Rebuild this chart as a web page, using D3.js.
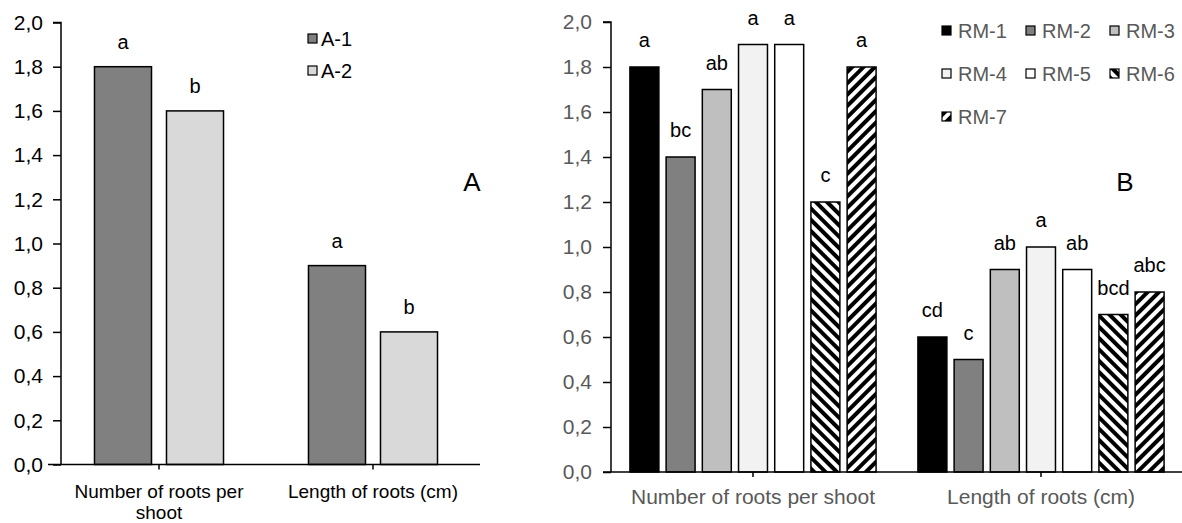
<!DOCTYPE html>
<html>
<head>
<meta charset="utf-8">
<script src="https://cdn.jsdelivr.net/npm/d3@7"></script>
<style>
    body { margin: 0; background: #fff; }
    svg { display: block; font-family: 'Liberation Sans', Arial, sans-serif; }
</style>
</head>
<body>
<div id="chart"></div>
<script>
// DATA

const left_categories = ['Number of roots per shoot', 'Length of roots (cm)'];
const left_series = ['A-1', 'A-2'];
const a1_values = [1.8, 0.9];
const a2_values = [1.6, 0.6];
const a1_letters = ['a', 'a'];
const a2_letters = ['b', 'b'];

const right_categories = ['Number of roots per shoot', 'Length of roots (cm)'];
const rm_series = ['RM-1', 'RM-2', 'RM-3', 'RM-4', 'RM-5', 'RM-6', 'RM-7'];
const rm_roots_number = [1.8, 1.4, 1.7, 1.9, 1.9, 1.2, 1.8];
const rm_roots_length = [0.6, 0.5, 0.9, 1.0, 0.9, 0.7, 0.8];
const rm_letters_number = ['a', 'bc', 'ab', 'a', 'a', 'c', 'a'];
const rm_letters_length = ['cd', 'c', 'ab', 'a', 'ab', 'bcd', 'abc'];

const y_ticks = [0, 0.2, 0.4, 0.6, 0.8, 1.0, 1.2, 1.4, 1.6, 1.8, 2.0];

//////////////////////////////////////////////

const width = 1182,
    height = 523;

const grey_text = '#595959';
const font = 'Liberation Sans, Arial, sans-serif';
const fmt = (d) => d.toFixed(1).replace('.', ',');

const svg = d3.select('#chart')
    .append('svg')
    .attr('width', width)
    .attr('height', height);

const defs = svg.append('defs');

const add_stripes = (id, angle) => {
    const p = defs.append('pattern')
        .attr('id', id)
        .attr('patternUnits', 'userSpaceOnUse')
        .attr('width', 8)
        .attr('height', 8)
        .attr('patternTransform', `rotate(${angle})`);
    p.append('rect').attr('width', 8).attr('height', 8).attr('fill', '#fff');
    p.append('rect').attr('width', 4).attr('height', 8).attr('fill', '#000');
}
add_stripes('down_diag', -45);
add_stripes('up_diag', 45);

const wrap = (text, max_width, line_height) => {
    text.each(function () {
        const t = d3.select(this);
        const words = t.text().split(' ');
        const x = t.attr('x');
        const y = t.attr('y');
        t.text(null);
        let line = [];
        let tspan = t.append('tspan').attr('x', x).attr('y', y);
        let n = 0;
        words.forEach((w) => {
            line.push(w);
            tspan.text(line.join(' '));
            if (tspan.node().getComputedTextLength() > max_width && line.length > 1) {
                line.pop();
                tspan.text(line.join(' '));
                line = [w];
                n++;
                tspan = t.append('tspan').attr('x', x).attr('y', +y + n * line_height).text(w);
            }
        });
    });
}

// LEFT PANEL (A)

const left_y = d3.scaleLinear().domain([0, 2]).range([464.5, 22.5]);
const left_x0 = d3.scaleBand().domain(left_categories).range([52, 480]);
const left_x1 = d3.scaleBand().domain(left_series)
    .range([0, left_x0.bandwidth()])
    .paddingInner(0.208)
    .paddingOuter(0.59);

const left_fill = d3.scaleOrdinal().domain(left_series).range(['#808080', '#d9d9d9']);

const left_rows = [];
left_categories.forEach((c, i) => {
    left_rows.push({ cat: c, s: 'A-1', v: a1_values[i], l: a1_letters[i] });
    left_rows.push({ cat: c, s: 'A-2', v: a2_values[i], l: a2_letters[i] });
});

const left = svg.append('g').attr('id', 'left');

left.selectAll('rect.bar')
    .data(left_rows)
    .enter()
    .append('rect')
    .attr('class', 'bar')
    .attr('x', (d) => left_x0(d.cat) + left_x1(d.s))
    .attr('y', (d) => left_y(d.v))
    .attr('width', left_x1.bandwidth())
    .attr('height', (d) => left_y(0) - left_y(d.v))
    .attr('fill', (d) => left_fill(d.s))
    .attr('stroke', '#000')
    .attr('stroke-width', 1.5);

left.selectAll('text.letter')
    .data(left_rows)
    .enter()
    .append('text')
    .attr('class', 'letter')
    .attr('x', (d) => left_x0(d.cat) + left_x1(d.s) + left_x1.bandwidth() / 2)
    .attr('y', (d) => left_y(d.v) - 18)
    .attr('text-anchor', 'middle')
    .style('font-size', '20px')
    .text((d) => d.l);

const left_y_axis = d3.axisLeft(left_y)
    .tickValues(y_ticks)
    .tickFormat(fmt)
    .tickSize(8)
    .tickPadding(10);

left.append('g')
    .attr('transform', 'translate(61, 0)')
    .call(left_y_axis)
    .call((g) => g.select('.domain').attr('d', `M-8,${left_y(2)}H0V${left_y(0)}`).attr('stroke-width', 1.5))
    .call((g) => g.selectAll('.tick line').attr('stroke-width', 1.5))
    .call((g) => g.selectAll('.tick text').attr('fill', '#000').style('font-size', '21px').style('font-family', font));

left.append('line')
    .attr('x1', 48).attr('x2', 480)
    .attr('y1', left_y(0)).attr('y2', left_y(0))
    .attr('stroke', '#000').attr('stroke-width', 1.5);

left.selectAll('line.cat_tick')
    .data(left_categories)
    .enter()
    .append('line')
    .attr('class', 'cat_tick')
    .attr('x1', (d) => left_x0(d) + left_x0.bandwidth() / 2)
    .attr('x2', (d) => left_x0(d) + left_x0.bandwidth() / 2)
    .attr('y1', left_y(0))
    .attr('y2', left_y(0) + 5)
    .attr('stroke', '#000').attr('stroke-width', 1.5);

left.selectAll('text.cat')
    .data(left_categories)
    .enter()
    .append('text')
    .attr('class', 'cat')
    .attr('x', (d) => left_x0(d) + left_x0.bandwidth() / 2)
    .attr('y', 498)
    .attr('text-anchor', 'middle')
    .style('font-size', '19px')
    .text((d) => d)
    .call(wrap, 190, 21);

left.append('text')
    .attr('x', 472)
    .attr('y', 191)
    .attr('text-anchor', 'middle')
    .style('font-size', '26px')
    .text('A');

const left_legend = left.append('g')
    .selectAll('g')
    .data(left_series)
    .enter()
    .append('g')
    .attr('transform', (d, i) => `translate(308, ${34 + i * 32})`);

left_legend.append('rect')
    .attr('width', 9).attr('height', 9)
    .attr('fill', (d) => left_fill(d))
    .attr('stroke', '#000').attr('stroke-width', 1.2);

left_legend.append('text')
    .attr('x', 13).attr('y', 11.5)
    .style('font-size', '20px')
    .text((d) => d);

// RIGHT PANEL (B)

const right_y = d3.scaleLinear().domain([0, 2]).range([472, 22]);
const right_x0 = d3.scaleBand().domain(right_categories).range([609, 1185]);
const right_x1 = d3.scaleBand().domain(rm_series)
    .range([0, right_x0.bandwidth()])
    .paddingInner(0.2)
    .paddingOuter(0.578);

const rm_fill = d3.scaleOrdinal().domain(rm_series)
    .range(['#000000', '#808080', '#bfbfbf', '#f2f2f2', '#ffffff', 'url(#down_diag)', 'url(#up_diag)']);

const right_rows = [];
rm_series.forEach((s, i) => {
    right_rows.push({ cat: right_categories[0], s: s, v: rm_roots_number[i], l: rm_letters_number[i] });
    right_rows.push({ cat: right_categories[1], s: s, v: rm_roots_length[i], l: rm_letters_length[i] });
});

const right = svg.append('g').attr('id', 'right');

right.selectAll('rect.bar')
    .data(right_rows)
    .enter()
    .append('rect')
    .attr('class', 'bar')
    .attr('x', (d) => right_x0(d.cat) + right_x1(d.s))
    .attr('y', (d) => right_y(d.v))
    .attr('width', right_x1.bandwidth())
    .attr('height', (d) => right_y(0) - right_y(d.v))
    .attr('fill', (d) => rm_fill(d.s))
    .attr('stroke', '#000')
    .attr('stroke-width', 1.5);

right.selectAll('text.letter')
    .data(right_rows)
    .enter()
    .append('text')
    .attr('class', 'letter')
    .attr('x', (d) => right_x0(d.cat) + right_x1(d.s) + right_x1.bandwidth() / 2)
    .attr('y', (d) => right_y(d.v) - 20)
    .attr('text-anchor', 'middle')
    .style('font-size', '20px')
    .text((d) => d.l);

const right_y_axis = d3.axisLeft(right_y)
    .tickValues(y_ticks)
    .tickFormat(fmt)
    .tickSize(8)
    .tickPadding(11);

right.append('g')
    .attr('transform', 'translate(611, 0)')
    .call(right_y_axis)
    .call((g) => g.select('.domain').attr('d', `M-8,${right_y(2)}H0V${right_y(0)}`).attr('stroke-width', 1.5))
    .call((g) => g.selectAll('.tick line').attr('stroke-width', 1.5))
    .call((g) => g.selectAll('.tick text').attr('fill', grey_text).style('font-size', '21px').style('font-family', font));

right.append('line')
    .attr('x1', 603).attr('x2', 1182)
    .attr('y1', right_y(0)).attr('y2', right_y(0))
    .attr('stroke', '#000').attr('stroke-width', 1.5);

right.selectAll('line.cat_tick')
    .data(right_categories)
    .enter()
    .append('line')
    .attr('class', 'cat_tick')
    .attr('x1', (d) => right_x0(d) + right_x0.bandwidth() / 2)
    .attr('x2', (d) => right_x0(d) + right_x0.bandwidth() / 2)
    .attr('y1', right_y(0))
    .attr('y2', right_y(0) + 5)
    .attr('stroke', '#000').attr('stroke-width', 1.5);

right.selectAll('text.cat')
    .data(right_categories)
    .enter()
    .append('text')
    .attr('class', 'cat')
    .attr('x', (d) => right_x0(d) + right_x0.bandwidth() / 2)
    .attr('y', 504)
    .attr('text-anchor', 'middle')
    .attr('fill', grey_text)
    .style('font-size', '21px')
    .text((d) => d);

right.append('text')
    .attr('x', 1125)
    .attr('y', 191)
    .attr('text-anchor', 'middle')
    .style('font-size', '26px')
    .text('B');

const right_legend = right.append('g')
    .selectAll('g')
    .data(rm_series)
    .enter()
    .append('g')
    .attr('transform', (d, i) => `translate(${942 + (i % 3) * 84}, ${26 + Math.floor(i / 3) * 43})`);

right_legend.append('rect')
    .attr('width', 9).attr('height', 9)
    .attr('fill', (d) => rm_fill(d))
    .attr('stroke', '#000').attr('stroke-width', 1.2);

right_legend.append('text')
    .attr('x', 16).attr('y', 11.5)
    .attr('fill', grey_text)
    .style('font-size', '20px')
    .text((d) => d);
</script>
</body>
</html>
